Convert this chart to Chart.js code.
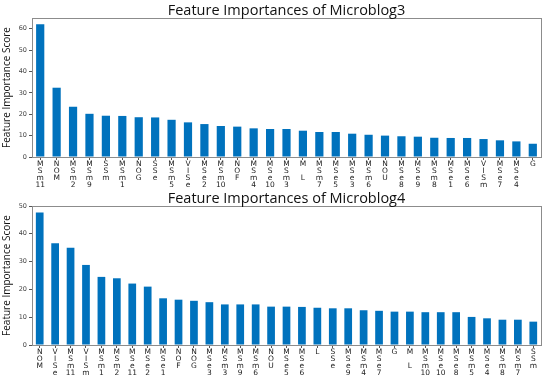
<!DOCTYPE html>
<html>
<head>
<meta charset="utf-8">
<script src="https://cdn.jsdelivr.net/npm/chart.js@4.4.1/dist/chart.umd.min.js"></script>
<style>
  html, body { margin: 0; padding: 0; background: #fff; }
  #wrap { position: relative; width: 550px; height: 383px; overflow: hidden; }
  .box { position: absolute; left: 0; width: 550px; }
</style>
</head>
<body>
<div id="wrap">
  <div class="box" style="top:0;height:190px"><canvas id="chart3"></canvas></div>
  <div class="box" style="top:190px;height:193px"><canvas id="chart4"></canvas></div>
</div>
<script>
// Microblog3 importances, sorted as in the figure
const labels3 = ['MSm11', 'NOM', 'MSm2', 'MSm9', 'SSm', 'MSm1', 'NOG', 'SSe', 'MSm5', 'VISe',
  'MSe2', 'MSm10', 'NOF', 'MSm4', 'MSe10', 'MSm3', 'M L', 'MSm7', 'MSe5', 'MSe3', 'MSm6',
  'NOU', 'MSe8', 'MSe9', 'MSm8', 'MSe1', 'MSe6', 'VISm', 'MSe7', 'MSe4', 'G'];
const values3 = [62.1, 32.4, 23.5, 20.2, 19.3, 19.2, 18.6, 18.5, 17.4, 16.2,
  15.4, 14.5, 14.2, 13.4, 13.1, 13.1, 12.3, 11.7, 11.7, 10.9, 10.4,
  10.0, 9.7, 9.5, 9.0, 8.9, 8.9, 8.4, 7.8, 7.3, 6.2];

// Microblog4 importances
const labels4 = ['NOM', 'VISe', 'MSm11', 'VISm', 'MSm1', 'MSm2', 'MSe11', 'MSe2', 'MSe1', 'NOF',
  'NOG', 'MSe3', 'MSm3', 'MSm9', 'MSm6', 'NOU', 'MSe5', 'MSe6', 'L', 'SSe', 'MSe9', 'MSm4',
  'MSe7', 'G', 'M L', 'MSm10', 'MSe10', 'MSe8', 'MSm5', 'MSe4', 'MSm8', 'MSm7', 'SSm'];
const values4 = [47.7, 36.6, 35.0, 28.8, 24.5, 24.0, 22.1, 21.0, 16.8, 16.3,
  15.9, 15.4, 14.6, 14.6, 14.6, 13.8, 13.8, 13.7, 13.4, 13.2, 13.2, 12.5,
  12.3, 12.0, 12.0, 11.8, 11.8, 11.8, 10.1, 9.6, 9.1, 9.1, 8.4];

const yMax3 = 65, yMax4 = 50, yStep = 10;

// labels are written one character per line, digits kept together
function stack(name) {
  return name.match(/\d+|./g).map(c => c === ' ' ? '' : c);
}

// matplotlib style box around the plot area, title centred over the axes
const frame = {
  id: 'frame',
  afterDraw(chart, args, opts) {
    const a = chart.chartArea, ctx = chart.ctx;
    ctx.save();
    ctx.strokeStyle = '#8c8c8c';
    ctx.lineWidth = 1;
    ctx.strokeRect(Math.round(a.left) + 0.5, Math.round(a.top) + 0.5,
      Math.round(a.right - a.left), Math.round(a.bottom - a.top));
    ctx.fillStyle = '#111';
    ctx.font = '14.5px "Open Sans"';
    ctx.textAlign = 'center';
    ctx.textBaseline = 'alphabetic';
    ctx.fillText(opts.text, (a.left + a.right) / 2, a.top - 3);
    ctx.restore();
  }
};

function makeChart(id, title, labels, values, yMax, top, xHeight) {
  const ctx = document.getElementById(id).getContext('2d');
  return new Chart(ctx, {
    type: 'bar',
    data: {
      labels: labels.map(stack),
      datasets: [{
        data: values,
        backgroundColor: '#0072bd',
        barPercentage: 0.5,
        categoryPercentage: 1.0
      }]
    },
    options: {
      responsive: true,
      maintainAspectRatio: false,
      animation: false,
      layout: { padding: { left: 0, right: 9, top: top, bottom: 0 } },
      scales: {
        x: {
          grid: { display: true, drawOnChartArea: false, offset: false, tickLength: 3, color: '#555' },
          border: { display: false },
          ticks: {
            autoSkip: false, maxRotation: 0, minRotation: 0, padding: 1,
            color: '#222',
            font: { family: 'DejaVu Sans', size: 7.5, lineHeight: 0.9 }
          },
          afterFit(s) { s.height = xHeight; }
        },
        y: {
          min: 0, max: yMax,
          grid: { display: true, drawOnChartArea: false, tickLength: 3, color: '#555' },
          border: { display: false },
          ticks: { stepSize: yStep, padding: 2, color: '#444', font: { family: 'DejaVu Sans', size: 6.5 } },
          afterBuildTicks(s) { s.ticks = s.ticks.filter(t => t.value % yStep === 0); },
          title: {
            display: true, text: 'Feature Importance Score', color: '#111',
            padding: { top: 1, bottom: 0 },
            font: { family: 'Open Sans', size: 10 }
          },
          afterFit(s) { s.width = 32; }
        }
      },
      plugins: {
        legend: { display: false },
        tooltip: { enabled: false },
        title: { display: false },
        frame: { text: title }
      }
    },
    plugins: [frame]
  });
}

makeChart('chart3', 'Feature Importances of Microblog3', labels3, values3, yMax3, 18, 33);
makeChart('chart4', 'Feature Importances of Microblog4', labels4, values4, yMax4, 16, 38);
</script>
</body>
</html>
